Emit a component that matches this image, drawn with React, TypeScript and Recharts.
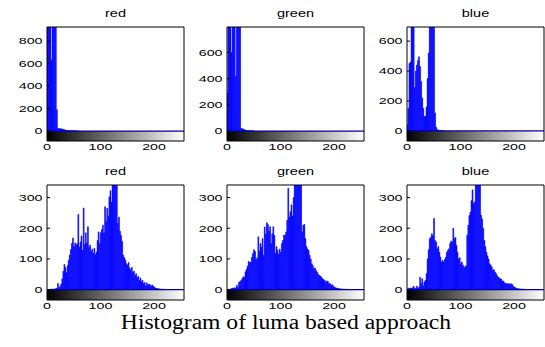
import React from "react";
import {
	ComposedChart,
	Bar,
	XAxis,
	YAxis,
	ReferenceArea,
	ReferenceLine,
} from "recharts";

// histogram counts, 2 grey levels per bin (bin i covers levels 2i and 2i+1)
const binWidth = 2;
const xTicks = [0, 100, 200];

const topRedCounts = [
	1100, 1500, 2000, 1200, 630, 1400, 1800, 1600, 1100, 190, 25, 22, 20, 21, 18,
	15, 12, 10, 6, 4, 3, 3, 2, 2, 2, 2, 2, 2, 1, 1,
];
const topGreenCounts = [
	290, 1200, 1500, 1300, 600, 900, 1100, 1000, 420, 1300, 1200, 1000, 900, 20,
	18, 15, 10, 6, 4, 3, 3, 2, 2, 2, 1, 1,
];
const topBlueCounts = [
	40, 150, 450, 460, 800, 900, 700, 290, 400, 440, 470, 495, 430, 330, 220, 150,
	95, 100, 160, 350, 520, 900, 1100, 1000, 900, 750, 120, 25, 10, 6, 4, 3, 2, 2,
	1,
];

const bottomRedCounts = [
	0, 0, 0, 1, 1, 2, 1, 2, 3, 4, 20, 6, 10, 18, 35, 60, 82, 72, 55, 78, 95, 112,
	130, 150, 168, 140, 152, 145, 150, 245, 138, 155, 175, 128, 266, 148, 185, 152,
	205, 138, 145, 125, 132, 118, 135, 114, 122, 160, 188, 150, 185, 196, 210, 185,
	270, 222, 265, 240, 302, 322, 285, 345, 380, 410, 395, 360, 216, 236, 190, 176,
	157, 112, 104, 96, 84, 80, 88, 70, 64, 72, 56, 60, 45, 52, 40, 43, 30, 38, 26,
	30, 20, 23, 12, 22, 15, 18, 16, 10, 15, 12, 8, 5, 4, 3, 3, 2, 2, 1, 1, 1, 1,
];
const bottomGreenCounts = [
	0, 0, 1, 2, 3, 5, 4, 6, 5, 14, 8, 24, 26, 30, 36, 42, 40, 58, 66, 76, 92, 88,
	90, 105, 118, 130, 124, 98, 104, 172, 126, 150, 138, 166, 112, 204, 180, 218,
	212, 190, 205, 150, 182, 205, 176, 118, 140, 128, 115, 132, 122, 150, 160, 178,
	176, 188, 226, 330, 236, 254, 276, 240, 300, 420, 380, 450, 400, 360, 355, 345,
	188, 210, 212, 166, 140, 132, 128, 112, 100, 84, 78, 68, 70, 62, 57, 50, 46,
	44, 40, 35, 33, 30, 24, 28, 27, 19, 20, 14, 16, 12, 8, 6, 5, 4, 3, 3, 2, 2, 2,
	1, 1, 1, 1, 0, 1,
];
const bottomBlueCounts = [
	2, 4, 3, 5, 4, 6, 11, 3, 5, 11, 4, 8, 40, 20, 35, 12, 25, 30, 52, 100, 130,
	166, 171, 182, 175, 232, 160, 155, 133, 140, 122, 106, 90, 95, 90, 98, 106, 122,
	128, 133, 150, 158, 155, 200, 166, 170, 144, 122, 100, 104, 84, 90, 80, 74, 74,
	78, 177, 210, 242, 253, 290, 325, 280, 286, 360, 420, 450, 380, 350, 242, 230,
	199, 160, 140, 122, 110, 100, 84, 80, 74, 63, 65, 57, 52, 45, 41, 38, 35, 33,
	28, 27, 22, 19, 20, 19, 19, 18, 19, 17, 12, 8, 6, 4, 3, 3, 2, 2, 1, 2, 1, 1,
];

const topRedTicks = [0, 200, 400, 600, 800];
const topTicks = [0, 200, 400, 600];
const bottomTicks = [0, 100, 200, 300];

const PLOT_W = 137;
const FONT = "'Liberation Sans', Arial, Helvetica, sans-serif";
const STRETCH = 1.5;

const toBins = (counts: number[]) =>
	counts.map((count, i) => ({ x: i * binWidth + 0.5, count }));

const XTick = (props: any) => {
	const { x, y, payload } = props;
	return (
		<text
			transform={`translate(${x},${y}) scale(${STRETCH},1)`}
			textAnchor="middle"
			dy="0.72em"
			fontSize={9.5}
			fontFamily={FONT}
			fill="#000"
		>
			{payload.value}
		</text>
	);
};

const YTick = (props: any) => {
	const { x, y, payload } = props;
	return (
		<text
			transform={`translate(${x},${y}) scale(${STRETCH},1)`}
			textAnchor="end"
			dy="0.35em"
			fontSize={9.5}
			fontFamily={FONT}
			fill="#000"
		>
			{payload.value}
		</text>
	);
};

function Panel({
	id,
	title,
	counts,
	yDomain,
	yTicks,
	left,
	top,
	plotH,
}: {
	id: string;
	title: string;
	counts: number[];
	yDomain: [number, number];
	yTicks: number[];
	left: number;
	top: number;
	plotH: number;
}) {
	const W = 40 + PLOT_W + 6;
	const H = 20 + plotH + 20;
	return (
		<>
			<div
				style={{
					position: "absolute",
					left,
					top: top - 18.2,
					width: PLOT_W,
					textAlign: "center",
					fontFamily: FONT,
					fontSize: 10,
					lineHeight: "10px",
					transform: "scaleX(1.45)",
				}}
			>
				{title}
			</div>
			<div
				style={{ position: "absolute", left: left - 40, top: top - 20, width: W, height: H }}
			>
				<ComposedChart
					width={W}
					height={H}
					data={toBins(counts)}
					margin={{ top: 19, right: 5, bottom: 0, left: 0 }}
				>
					<defs>
						<linearGradient id={`ramp-${id}`} x1="0" y1="0" x2="1" y2="0">
							<stop offset="0%" stopColor="#000" />
							<stop offset="100%" stopColor="#fff" />
						</linearGradient>
					</defs>
					<XAxis
						dataKey="x"
						type="number"
						domain={[0, 256]}
						allowDataOverflow
						ticks={xTicks}
						interval={0}
						tickLine={false}
						tickSize={0}
						tickMargin={2.5}
						height={20}
						stroke="#000"
						tick={<XTick />}
					/>
					<XAxis
						xAxisId="top"
						orientation="top"
						type="number"
						domain={[0, 256]}
						allowDataOverflow
						ticks={[100, 200]}
						interval={0}
						height={1}
						tick={false}
						tickSize={-3}
						stroke="#000"
					/>
					<YAxis
						type="number"
						domain={yDomain}
						allowDataOverflow
						ticks={yTicks}
						interval={0}
						width={40}
						tickSize={-3}
						tickMargin={7.5}
						stroke="#000"
						tick={<YTick />}
					/>
					<YAxis
						yAxisId="right"
						orientation="right"
						type="number"
						domain={yDomain}
						allowDataOverflow
						ticks={yTicks}
						interval={0}
						width={1}
						tick={false}
						tickSize={-3}
						stroke="#000"
					/>
					<ReferenceArea
						x1={0}
						x2={256}
						y1={yDomain[0]}
						y2={0}
						fill={`url(#ramp-${id})`}
						fillOpacity={1}
						stroke="none"
					/>
					<Bar
						dataKey="count"
						fill="#0000ff"
						stroke="#0000ff"
						strokeWidth={0.6}
						isAnimationActive={false}
					/>
					<ReferenceLine y={0} stroke="#0000a0" strokeWidth={1.2} />
				</ComposedChart>
			</div>
		</>
	);
}

export default function App() {
	return (
		<div
			style={{
				position: "absolute",
				left: 0,
				top: 0,
				width: 545,
				height: 347,
				overflow: "hidden",
				background: "#fff",
			}}
		>
			<Panel id="tr" title="red" counts={topRedCounts} yDomain={[-88, 924]} yTicks={topRedTicks} left={47} top={27} plotH={114} />
			<Panel id="tg" title="green" counts={topGreenCounts} yDomain={[-76, 795]} yTicks={topTicks} left={227} top={27} plotH={114} />
			<Panel id="tb" title="blue" counts={topBlueCounts} yDomain={[-67, 694]} yTicks={topTicks} left={407} top={27} plotH={114} />
			<Panel id="br" title="red" counts={bottomRedCounts} yDomain={[-34, 341]} yTicks={bottomTicks} left={47} top={185} plotH={115} />
			<Panel id="bg" title="green" counts={bottomGreenCounts} yDomain={[-34, 341]} yTicks={bottomTicks} left={227} top={185} plotH={115} />
			<Panel id="bb" title="blue" counts={bottomBlueCounts} yDomain={[-34, 341]} yTicks={bottomTicks} left={407} top={185} plotH={115} />
			<div
				style={{
					position: "absolute",
					left: 86,
					top: 314,
					width: 400,
					textAlign: "center",
					fontFamily: "'Liberation Serif', 'Times New Roman', serif",
					fontSize: 20,
					lineHeight: "16px",
					transform: "scaleX(1.18)",
				}}
			>
				Histogram of luma based approach
			</div>
		</div>
	);
}
